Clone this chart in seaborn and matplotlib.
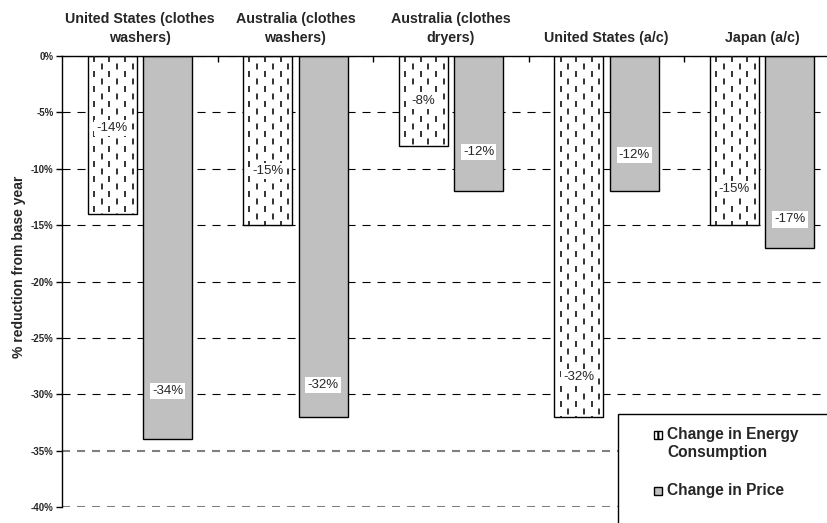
import matplotlib
matplotlib.use("Agg")
import matplotlib.pyplot as plt
import matplotlib.ticker as mticker
from matplotlib.patches import Rectangle
from matplotlib.lines import Line2D
import numpy as np
import pandas as pd
import seaborn as sns

categories = [
    "United States (clothes\nwashers)",
    "Australia (clothes\nwashers)",
    "Australia (clothes\ndryers)",
    "United States (a/c)",
    "Japan (a/c)",
]
series = ["Change in Energy\nConsumption", "Change in Price"]
energyChange = [-14, -15, -8, -32, -15]
priceChange = [-34, -32, -12, -12, -17]
# data labels were dragged by hand in the original, keep their heights
energyLabelY = [-6.4, -10.2, -4.0, -28.5, -11.8]
priceLabelY = [-29.7, -29.2, -8.5, -8.8, -14.5]
seriesColors = ["white", "#c0c0c0"]

df = pd.DataFrame(
    {
        "category": categories * 2,
        "series": [series[0]] * len(categories) + [series[1]] * len(categories),
        "value": energyChange + priceChange,
    }
)

sns.set_theme(style="white")
plt.rcParams["font.family"] = ["Liberation Sans", "DejaVu Sans"]
plt.rcParams["axes.unicode_minus"] = False
plt.rcParams["lines.scale_dashes"] = False
plt.rcParams["hatch.linewidth"] = 1.5

W, H = 828, 523
fig = plt.figure(figsize=(W / 100, H / 100), dpi=100)
ax = fig.add_axes([0.0749, 0.0306, 0.9396, 0.8623])

sns.barplot(
    data=df, x="category", y="value", hue="series",
    order=categories, hue_order=series,
    palette=seriesColors, width=0.713, gap=0.116,
    edgecolor="black", linewidth=1, legend=False, ax=ax, zorder=2,
)

# vertical dashed pattern inside the energy bars
for bar in ax.containers[0]:
    x0, w, h = bar.get_x(), bar.get_width(), bar.get_height()
    for k, cx in enumerate(np.arange(x0 + 0.04, x0 + w - 0.01, 0.05)):
        off = 0 if k % 2 == 0 else 5.4
        ln = Line2D([cx, cx], [0, h], color="#222222", lw=1.3,
                    linestyle=(off, (4.3, 6.5)), zorder=3)
        ln.set_clip_path(bar)
        ax.add_line(ln)

# data labels in white boxes
for cont, vals, ys in zip(ax.containers, [energyChange, priceChange],
                          [energyLabelY, priceLabelY]):
    bars = sorted(cont, key=lambda b: b.get_x())
    for bar, v, y in zip(bars, vals, ys):
        ax.text(bar.get_x() + bar.get_width() / 2, y, f"{v}%",
                ha="center", va="center", fontsize=9.5, zorder=4,
                bbox=dict(facecolor="white", edgecolor="none", pad=1.5))

ax.set_ylim(-40, 0)
ax.set_xlim(-0.5, 4.5)
ax.set_yticks(np.arange(-40, 1, 5))
ax.yaxis.set_major_formatter(mticker.FuncFormatter(lambda v, _: f"{v:.0f}%"))
for lab in ax.get_yticklabels():
    lab.set_fontweight("bold")
ax.tick_params(axis="y", labelsize=7, length=4, width=1, color="black",
               direction="out", left=True, pad=2)

# category names sit above the plot, ticks mark the boundaries
ax.xaxis.tick_top()
ax.tick_params(axis="x", which="major", length=0, pad=8.2, labelsize=10.3,
               labeltop=True, labelbottom=False)
for lab in ax.get_xticklabels():
    lab.set_fontweight("bold")
    lab.set_linespacing(1.4)
ax.set_xticks(np.arange(0.5, len(categories), 1), minor=True)
ax.tick_params(axis="x", which="minor", direction="in", length=4, width=1,
               color="black", top=True, bottom=False)

ax.set_xlabel("")
ax.set_ylabel("% reduction from base year", fontsize=10, fontweight="bold")
ax.yaxis.set_label_coords(-0.046, 0.532)

ax.set_axisbelow(True)
ax.yaxis.grid(True, linestyle=(0, (5.8, 5)), color="black", linewidth=0.8)
for tick, line in zip(ax.get_yticks(), ax.get_ygridlines()):
    if tick <= -35:
        line.set_color("#808080")
        line.set_linewidth(1.5)

for side in ["bottom", "right"]:
    ax.spines[side].set_visible(False)
for side in ["left", "top"]:
    ax.spines[side].set_color("black")
    ax.spines[side].set_linewidth(1)

# legend box runs off the lower right corner, drawn by hand
box = Rectangle((618 / W, -0.05), 0.5, 1 - 414 / H + 0.05,
                transform=fig.transFigure, facecolor="white",
                edgecolor="black", linewidth=1, zorder=5)
fig.add_artist(box)
legendY = [435, 491]
for rowY, color, hatch, label in zip(legendY, seriesColors, ["|", None], series):
    marker = Rectangle((654 / W, 1 - (rowY + 4) / H), 8 / W, 8 / H,
                       transform=fig.transFigure, facecolor=color,
                       edgecolor="black", linewidth=1, hatch=hatch, zorder=6)
    fig.add_artist(marker)
    for i, part in enumerate(label.split("\n")):
        fig.text(667 / W, 1 - (rowY + 17 * i) / H, part, ha="left",
                 va="center", fontsize=11.2, fontweight="bold", zorder=7)

fig.savefig("out.png", dpi=100)
